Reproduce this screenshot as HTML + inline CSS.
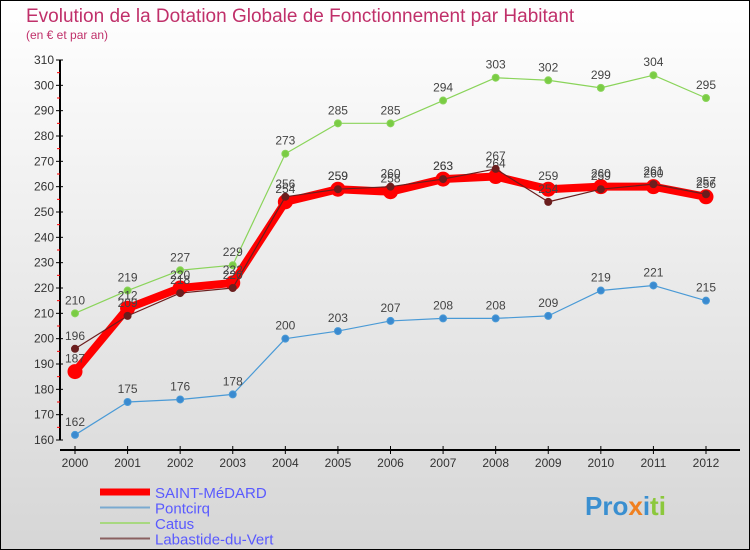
<!DOCTYPE html>
<html><head><meta charset="utf-8"><style>
body{margin:0}
svg{display:block;font-family:"Liberation Sans",sans-serif}
</style></head><body>
<svg width="750" height="550" viewBox="0 0 750 550">
<defs><linearGradient id="bg" x1="0" y1="0" x2="0" y2="1"><stop offset="0" stop-color="#ffffff"/><stop offset="1" stop-color="#d6d6d6"/></linearGradient></defs>
<rect x="0.5" y="0.5" width="749" height="549" fill="url(#bg)" stroke="#000"/>
<text x="26" y="22" font-size="19" fill="#c0306a">Evolution de la Dotation Globale de Fonctionnement par Habitant</text>
<text x="26" y="39" font-size="12" fill="#c0306a">(en € et par an)</text>
<g id="axes"></g>
<g id="series"></g>
<g id="legend"></g>
<text x="585" y="515" font-size="26" font-weight="bold"><tspan fill="#3a8fd0">Pro</tspan><tspan fill="#f08020">x</tspan><tspan fill="#3a8fd0">i</tspan><tspan fill="#8cc83c">ti</tspan></text>
</svg>
<script>
const years=[2000,2001,2002,2003,2004,2005,2006,2007,2008,2009,2010,2011,2012];
const yTicks=[160,170,180,190,200,210,220,230,240,250,260,270,280,290,300,310];
const saintMedard=[187,212,220,222,254,259,258,263,264,259,260,260,256];
const pontcirq=[162,175,176,178,200,203,207,208,208,209,219,221,215];
const catus=[210,219,227,229,273,285,285,294,303,302,299,304,295];
const labastide=[196,209,218,220,256,259,260,263,267,254,259,261,257];
const NS='http://www.w3.org/2000/svg';
function X(i){return 75+i*(706-75)/12;}
function Y(v){return 440-(v-160)*380/150;}
function mk(tag,attrs,parent){const e=document.createElementNS(NS,tag);for(const k in attrs)e.setAttribute(k,attrs[k]);parent.appendChild(e);return e;}
const axes=document.getElementById('axes');
let yl=mk('line',{x1:60,y1:Y(310),x2:60,y2:Y(160),stroke:'#000','stroke-width':2},axes);


yTicks.forEach((v,k)=>{
 mk('line',{x1:56,x2:63,y1:Y(v),y2:Y(v),stroke:'#000'},axes);
 if(k<yTicks.length-1) mk('line',{x1:57,x2:60,y1:Y(v+5),y2:Y(v+5),stroke:'#f00'},axes);
 const t=mk('text',{x:54,y:Y(v)+4,'font-size':12,fill:'#333','text-anchor':'end'},axes);
 t.textContent=v;
 
 
});
let xl=mk('line',{x1:60,y1:450,x2:740,y2:450,stroke:'#000','stroke-width':2},axes);


years.forEach((y,i)=>{
 mk('line',{x1:X(i),x2:X(i),y1:446,y2:454,stroke:'#000'},axes);
 const t=mk('text',{x:X(i),y:467,'font-size':12,fill:'#333','text-anchor':'middle'},axes);
 t.textContent=y;
 
 
});
const sg=document.getElementById('series');
function series(vals,color,w,r,dot,name){
 const g=mk('g',{},sg);
 
 
 mk('polyline',{points:vals.map((v,i)=>X(i)+','+Y(v)).join(' '),fill:'none',stroke:color,'stroke-width':w,'stroke-linejoin':'round'},g);
 vals.forEach((v,i)=>{
  const c=mk('circle',{cx:X(i),cy:Y(v),r:r,fill:dot,stroke:color,'stroke-width':1},g);
  
  
  const t=mk('text',{x:X(i),y:Y(v)-9,'font-size':12,fill:'#444','text-anchor':'middle'},g);
  t.textContent=v;
  
  
 });
}
series(pontcirq,'#4a9ad6',1.2,3.5,'#3a8ad0','pontcirq-series');
series(catus,'#8ad45a',1.2,3.5,'#7acc44','catus-series');
series(saintMedard,'#f00',8,7,'#f00','saint-medard-series');
series(labastide,'#6b1e1e',1.2,3.5,'#6b1e1e','labastide-series');
const lg=document.getElementById('legend');
const items=[['SAINT-MéDARD','#f00',7],['Pontcirq','#7aaad0',2],['Catus','#a8d880',2],['Labastide-du-Vert','#8a6060',2]];
items.forEach((it,k)=>{
 const yy=492+k*15.5;
 const g=mk('g',{},lg);
 
 
 mk('line',{x1:100,x2:150,y1:yy,y2:yy,stroke:it[1],'stroke-width':it[2]},g);
 const t=mk('text',{x:155,y:yy+6,'font-size':15,fill:'#5a5aff'},g);
 t.textContent=it[0];
});
</script>
</body></html>
